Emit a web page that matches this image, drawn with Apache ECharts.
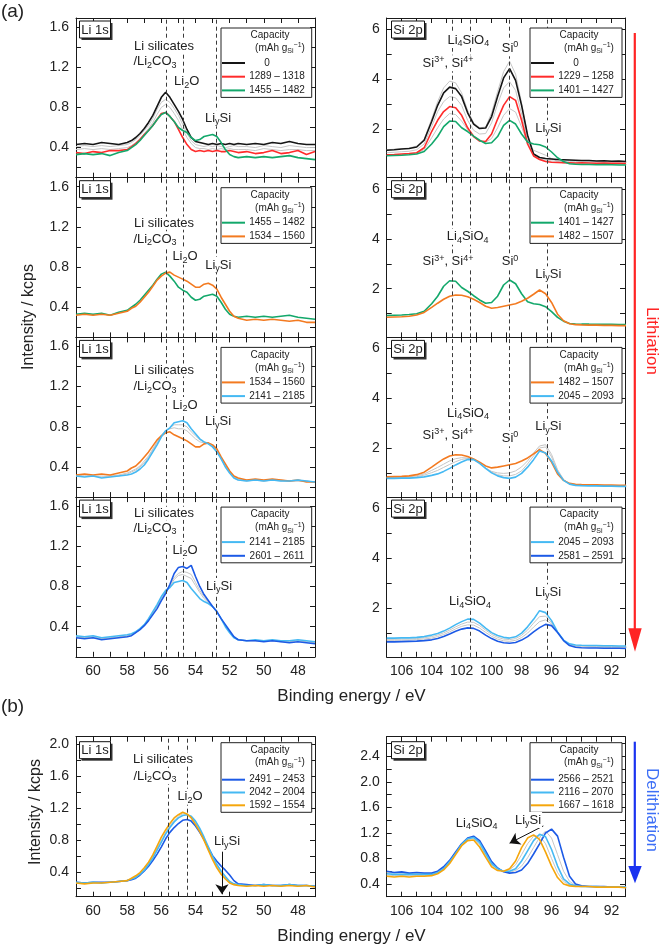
<!DOCTYPE html>
<html>
<head>
<meta charset="utf-8">
<script src="https://cdn.jsdelivr.net/npm/echarts@6.0.0/dist/echarts.min.js"></script>
<title>Li 1s / Si 2p XPS</title>
<style>
  html, body { margin: 0; padding: 0; background: #fff; }
  #main { width: 660px; height: 947px; }
</style>
</head>
<body>
<div id="main"></div>
<script>
// binding energy grids (eV)
var liE = [61,60.5,60,59.5,59,58.5,58,57.75,57.5,57.25,57,56.75,56.5,56.25,56,55.75,55.5,55.25,55,54.75,54.5,54.25,54,53.75,53.5,53.25,53,52.75,52.5,52.25,52,51.75,51.5,51,50.5,50,49.5,49,48.5,48,47.5,47];
var siE = [107,106.5,106,105.5,105,104.5,104,103.6,103.2,102.8,102.4,102,101.6,101.2,100.8,100.4,100,99.6,99.2,98.8,98.4,98,97.6,97.2,96.8,96.4,96,95.6,95.2,94.8,94.4,94,93.5,93,92.5,92,91.5,91];

// Li 1s spectra (kcps), by capacity
var li0    = [.43,.44,.43,.45,.44,.43,.45,.47,.50,.54,.59,.65,.72,.81,.90,.95,.90,.83,.76,.68,.58,.50,.46,.45,.44,.43,.44,.43,.44,.43,.44,.43,.44,.43,.44,.43,.45,.44,.46,.44,.43,.43];
var li1289 = [.35,.34,.36,.35,.37,.37,.38,.41,.44,.48,.53,.57,.62,.68,.74,.75,.71,.66,.58,.50,.43,.38,.36,.37,.36,.37,.36,.37,.36,.36,.37,.36,.35,.36,.34,.35,.37,.34,.35,.37,.33,.36];
var li1455 = [.33,.34,.33,.34,.32,.35,.37,.40,.43,.47,.52,.57,.62,.68,.73,.75,.71,.66,.60,.57,.55,.50,.47,.48,.51,.52,.53,.51,.45,.38,.33,.31,.30,.31,.30,.31,.30,.31,.32,.30,.29,.28];
var li1534 = [.32,.33,.32,.33,.32,.34,.36,.39,.41,.45,.50,.55,.61,.67,.71,.74,.75,.72,.70,.68,.66,.63,.60,.60,.63,.64,.62,.58,.50,.43,.36,.31,.29,.27,.28,.27,.28,.27,.26,.27,.25,.25];
var li2141 = [.31,.30,.31,.29,.30,.31,.32,.33,.35,.38,.42,.48,.55,.62,.70,.76,.79,.84,.85,.86,.84,.78,.73,.68,.65,.63,.60,.55,.48,.40,.34,.29,.27,.26,.27,.26,.27,.26,.26,.27,.26,.25];
var li2601 = [.29,.28,.29,.27,.28,.29,.30,.31,.34,.37,.41,.46,.52,.58,.66,.73,.82,.93,.99,1.00,.98,1.01,.90,.80,.72,.66,.60,.55,.48,.42,.36,.30,.27,.26,.26,.25,.26,.25,.24,.25,.24,.23];
var li2491 = [.28,.27,.28,.28,.28,.29,.30,.31,.33,.37,.42,.48,.55,.63,.72,.82,.90,.96,1.01,1.05,1.06,1.04,.98,.90,.81,.71,.61,.54,.48,.43,.37,.30,.26,.25,.24,.25,.24,.24,.25,.24,.24,.23];
var li2042 = [.28,.27,.28,.27,.28,.29,.30,.32,.34,.38,.43,.50,.58,.68,.78,.88,.96,1.03,1.08,1.11,1.12,1.10,1.04,.95,.84,.72,.60,.50,.42,.35,.29,.26,.25,.24,.24,.25,.24,.24,.25,.24,.24,.23];
var li1592 = [.27,.26,.27,.27,.28,.29,.30,.33,.36,.40,.46,.53,.62,.73,.84,.93,1.01,1.08,1.12,1.15,1.13,1.08,1.00,.91,.80,.68,.56,.46,.38,.32,.27,.25,.24,.23,.24,.23,.24,.23,.24,.23,.24,.22];
// intermediate Li 1s scans (grey)
var gLi1a = [.41,.42,.41,.42,.41,.42,.43,.45,.48,.52,.57,.62,.69,.78,.85,.88,.85,.79,.72,.63,.54,.47,.43,.42,.41,.42,.41,.42,.41,.40,.41,.42,.41,.41,.40,.42,.41,.40,.42,.41,.40,.40];
var gLi1b = [.38,.39,.38,.39,.38,.39,.40,.42,.45,.49,.54,.59,.65,.73,.80,.83,.80,.74,.67,.58,.50,.44,.40,.39,.39,.38,.39,.38,.39,.38,.39,.38,.38,.38,.37,.39,.38,.37,.38,.38,.37,.37];
var gLi3a = [.31,.32,.31,.31,.31,.32,.34,.36,.38,.41,.46,.51,.58,.65,.72,.76,.78,.79,.78,.78,.76,.72,.68,.65,.64,.64,.62,.57,.49,.41,.35,.30,.28,.27,.27,.26,.27,.27,.26,.26,.26,.25];
var gLi3b = [.31,.31,.31,.30,.31,.31,.33,.35,.37,.40,.44,.50,.57,.64,.71,.76,.79,.82,.82,.82,.80,.75,.71,.67,.65,.64,.61,.56,.48,.40,.34,.29,.27,.26,.27,.26,.27,.26,.26,.26,.26,.25];
var gLi4a = [.30,.29,.30,.28,.29,.30,.31,.32,.34,.37,.42,.47,.54,.61,.69,.75,.82,.89,.93,.95,.94,.92,.84,.76,.70,.65,.60,.55,.48,.41,.35,.30,.27,.26,.26,.26,.26,.25,.25,.26,.25,.24];
var gLi4b = [.30,.29,.29,.28,.29,.29,.30,.32,.34,.37,.41,.46,.53,.60,.68,.74,.80,.87,.91,.92,.90,.88,.81,.74,.68,.64,.60,.55,.48,.41,.35,.29,.27,.26,.26,.26,.26,.25,.25,.26,.25,.24];
var gLi5a = [.27,.27,.27,.27,.28,.29,.30,.32,.35,.39,.44,.51,.60,.70,.80,.90,.98,1.05,1.10,1.13,1.13,1.09,1.02,.93,.82,.70,.58,.48,.40,.33,.28,.25,.24,.24,.24,.24,.24,.23,.24,.23,.24,.23];

// Si 2p spectra (kcps), by capacity
var si0    = [1.15,1.17,1.20,1.22,1.28,1.55,2.30,2.95,3.45,3.68,3.62,3.30,2.65,2.20,2.02,2.04,2.50,3.30,4.05,4.42,3.95,2.95,1.75,1.00,0.86,0.82,0.80,0.78,0.77,0.76,0.75,0.74,0.74,0.72,0.73,0.71,0.72,0.70];
var si1229 = [0.97,0.98,1.00,1.02,1.05,1.25,1.90,2.35,2.70,2.90,2.85,2.55,2.05,1.70,1.52,1.50,1.80,2.40,2.95,3.30,3.15,2.35,1.40,0.92,0.78,0.70,0.67,0.66,0.65,0.65,0.64,0.65,0.64,0.63,0.64,0.63,0.63,0.62];
var si1401 = [0.93,0.94,0.95,0.97,1.00,1.10,1.40,1.70,2.10,2.32,2.30,2.05,1.90,1.72,1.55,1.42,1.45,1.70,2.15,2.35,2.20,1.80,1.48,1.40,1.37,1.28,1.08,0.85,0.70,0.61,0.59,0.58,0.58,0.57,0.58,0.57,0.56,0.56];
var si1482 = [0.86,0.87,0.88,0.90,0.95,1.05,1.25,1.42,1.58,1.70,1.75,1.74,1.68,1.58,1.45,1.30,1.22,1.25,1.30,1.35,1.40,1.50,1.62,1.78,1.95,1.80,1.45,0.98,0.72,0.60,0.56,0.55,0.54,0.54,0.53,0.53,0.52,0.52];
var si2045 = [0.80,0.80,0.81,0.81,0.83,0.86,0.92,0.98,1.08,1.20,1.34,1.46,1.56,1.55,1.40,1.20,1.02,0.90,0.83,0.80,0.85,1.00,1.25,1.55,1.90,1.82,1.50,1.05,0.72,0.57,0.52,0.51,0.50,0.50,0.49,0.49,0.48,0.48];
var si2581 = [0.65,0.65,0.66,0.67,0.68,0.70,0.73,0.78,0.86,0.96,1.07,1.16,1.21,1.19,1.08,0.92,0.78,0.67,0.61,0.59,0.62,0.72,0.86,1.05,1.22,1.35,1.30,1.02,0.70,0.50,0.43,0.41,0.40,0.40,0.39,0.39,0.39,0.38];
var si2566 = [0.60,0.58,0.59,0.57,0.58,0.57,0.57,0.60,0.67,0.77,0.90,1.03,1.12,1.15,1.08,0.92,0.75,0.65,0.59,0.57,0.58,0.62,0.72,0.87,1.03,1.20,1.26,1.15,0.82,0.52,0.40,0.37,0.36,0.36,0.36,0.35,0.35,0.35];
var si2116 = [0.56,0.55,0.55,0.55,0.55,0.55,0.55,0.58,0.64,0.75,0.88,1.02,1.11,1.13,1.05,0.88,0.72,0.64,0.60,0.60,0.64,0.76,0.92,1.08,1.18,1.14,0.94,0.68,0.48,0.40,0.37,0.36,0.36,0.36,0.35,0.35,0.35,0.35];
var si1667 = [0.52,0.51,0.52,0.51,0.52,0.52,0.53,0.56,0.62,0.72,0.86,1.00,1.08,1.09,0.98,0.82,0.67,0.61,0.60,0.64,0.76,0.97,1.12,1.17,1.10,0.90,0.68,0.50,0.40,0.37,0.36,0.36,0.36,0.35,0.35,0.35,0.35,0.34];
// intermediate Si 2p scans (grey)
var gSi1a = [1.17,1.19,1.21,1.24,1.32,1.60,2.40,3.10,3.65,3.92,3.85,3.45,2.75,2.25,2.05,2.08,2.65,3.50,4.30,4.72,4.20,3.05,1.75,1.00,0.86,0.82,0.79,0.77,0.76,0.75,0.74,0.73,0.73,0.72,0.72,0.71,0.71,0.70];
var gSi1b = [1.05,1.07,1.09,1.11,1.17,1.40,2.10,2.70,3.10,3.30,3.25,2.95,2.35,1.95,1.80,1.82,2.25,3.00,3.65,3.90,3.55,2.60,1.50,0.95,0.80,0.75,0.72,0.71,0.70,0.69,0.69,0.68,0.68,0.68,0.67,0.67,0.67,0.66];
var gSi1c = [0.95,0.96,0.97,0.99,1.03,1.17,1.65,2.05,2.40,2.62,2.58,2.32,1.98,1.70,1.52,1.47,1.62,2.05,2.55,2.82,2.68,2.08,1.45,1.15,1.05,0.95,0.82,0.70,0.64,0.61,0.60,0.60,0.60,0.59,0.59,0.58,0.58,0.58];
var gSi3a = [0.84,0.84,0.85,0.86,0.90,0.98,1.12,1.24,1.37,1.50,1.59,1.63,1.62,1.55,1.40,1.21,1.08,1.02,1.00,1.02,1.10,1.26,1.50,1.82,2.10,2.15,1.76,1.15,0.76,0.58,0.53,0.52,0.52,0.51,0.51,0.50,0.50,0.50];
var gSi3b = [0.82,0.82,0.83,0.84,0.87,0.93,1.03,1.12,1.24,1.36,1.47,1.56,1.60,1.56,1.42,1.22,1.05,0.95,0.90,0.90,0.96,1.10,1.38,1.70,2.02,2.06,1.66,1.10,0.74,0.57,0.52,0.51,0.51,0.50,0.50,0.49,0.49,0.49];
var gSi4a = [0.75,0.75,0.76,0.76,0.78,0.81,0.86,0.92,1.01,1.12,1.25,1.36,1.44,1.43,1.30,1.12,0.95,0.83,0.76,0.74,0.78,0.91,1.12,1.40,1.66,1.68,1.42,1.04,0.71,0.55,0.49,0.48,0.47,0.47,0.46,0.46,0.46,0.45];
var gSi4b = [0.71,0.71,0.72,0.72,0.74,0.76,0.80,0.86,0.94,1.05,1.17,1.27,1.33,1.32,1.20,1.03,0.87,0.76,0.69,0.67,0.71,0.82,1.00,1.24,1.46,1.53,1.37,1.03,0.70,0.52,0.46,0.44,0.44,0.43,0.43,0.42,0.42,0.42];
var gSi5a = [0.54,0.53,0.53,0.53,0.53,0.53,0.54,0.57,0.63,0.74,0.87,1.01,1.10,1.11,1.02,0.85,0.70,0.63,0.60,0.62,0.70,0.86,1.03,1.15,1.16,1.03,0.80,0.58,0.44,0.38,0.36,0.36,0.36,0.35,0.35,0.35,0.35,0.34];
var gSi5b = [0.58,0.57,0.57,0.56,0.57,0.56,0.56,0.59,0.66,0.76,0.89,1.03,1.12,1.14,1.07,0.90,0.74,0.65,0.60,0.58,0.61,0.68,0.81,0.97,1.13,1.23,1.12,0.86,0.60,0.44,0.38,0.37,0.36,0.36,0.36,0.35,0.35,0.35];

// reference peak positions (eV)
var liRefs  = [55.7, 54.7, 52.8];
var liRefsB = [55.6, 54.5];
var siRefs  = [102.6, 101.4, 98.8, 96.3];
var siRefs4 = [101.4, 96.3];

var FONT = '"Liberation Sans", Arial, sans-serif';
var C = {
  black: '#151515', red: '#ff2b2b', green: '#13a86b', orange: '#f37a20',
  lblue: '#45b9f3', dblue: '#1c5ae6', yellow: '#f5a60c', grey: '#c6c6c6'
};

var COLS = [
  {x: 76, w: 239, lo: 47, hi: 61, E: liE, tag: 'Li 1s', tagX: 79.5, tagW: 31, legX: 221, legW: 90.7},
  {x: 386.7, w: 238.3, lo: 91.1, hi: 107, E: siE, tag: 'Si 2p', tagX: 391.5, tagW: 33, legX: 530, legW: 92}
];
var ROWS = [
  {top: 18, h: 159.7, xlab: false},
  {top: 177.7, h: 159.7, xlab: false},
  {top: 337.4, h: 159.7, xlab: false},
  {top: 497.1, h: 159.7, xlab: true},
  {top: 736.7, h: 160, xlab: true, b: true}
];

var LI_Y = [0.1, 1.69, 0.2, 0.4, 1], LI_YB = [0.1, 2.09, 0.2, 0.4, 1];
var SI_Y = [0.05, 6.45, 1, 2, 0], SI_YB = [0.2, 2.71, 0.2, 0.4, 1];

var SIL = 'Li silicates', CO3 = '/Li{b|2}CO{b|3}', L2O = 'Li{b|2}O', LYS = 'Li{b|y}Si';
var LSO = 'Li{b|4}SiO{b|4}', S34 = 'Si{p|3+}, Si{p|4+}', S0 = 'Si{p|0}';

var panels = [
  {r: 0, c: 0, y: LI_Y, grey: [gLi1a, gLi1b], refs: liRefs,
   lines: [['0', li0, C.black], ['1289 – 1318', li1289, C.red], ['1455 – 1482', li1455, C.green]],
   texts: [[SIL, 164, 46.7], [CO3, 155, 61.7], [L2O, 186.7, 81.7], [LYS, 218, 118.3]]},
  {r: 0, c: 1, y: SI_Y, grey: [gSi1a, gSi1b, gSi1c], refs: siRefs,
   lines: [['0', si0, C.black], ['1229 – 1258', si1229, C.red], ['1401 – 1427', si1401, C.green]],
   texts: [[LSO, 468.3, 40], [S34, 448, 63.3], [S0, 510, 48.3], [LYS, 548.3, 128.3]]},
  {r: 1, c: 0, y: LI_Y, grey: [], refs: liRefs,
   lines: [['1455 – 1482', li1455, C.green], ['1534 – 1560', li1534, C.orange]],
   texts: [[SIL, 164, 223.3], [CO3, 155, 239.3], [L2O, 185, 256.7], [LYS, 218.3, 265]]},
  {r: 1, c: 1, y: SI_Y, grey: [], refs: siRefs,
   lines: [['1401 – 1427', si1401, C.green], ['1482 – 1507', si1482, C.orange]],
   texts: [[LSO, 467.7, 236.7], [S34, 448, 261.7], [S0, 510, 261.7], [LYS, 548.3, 274.3]]},
  {r: 2, c: 0, y: LI_Y, grey: [gLi3a, gLi3b], refs: liRefs,
   lines: [['1534 – 1560', li1534, C.orange], ['2141 – 2185', li2141, C.lblue]],
   texts: [[SIL, 164, 370], [CO3, 155, 386.7], [L2O, 185, 405], [LYS, 218, 421.7]]},
  {r: 2, c: 1, y: SI_Y, grey: [gSi3a, gSi3b], refs: siRefs,
   lines: [['1482 – 1507', si1482, C.orange], ['2045 – 2093', si2045, C.lblue]],
   texts: [[LSO, 468, 413.3], [S34, 448, 435], [S0, 510, 438.3], [LYS, 548.3, 426.7]]},
  {r: 3, c: 0, y: LI_Y, grey: [gLi4a, gLi4b], refs: liRefs,
   lines: [['2141 – 2185', li2141, C.lblue], ['2601 – 2611', li2601, C.dblue]],
   texts: [[SIL, 164, 513.3], [CO3, 155, 528.3], [L2O, 185, 550], [LYS, 219, 586]]},
  {r: 3, c: 1, y: SI_Y, grey: [gSi4a, gSi4b], refs: siRefs4,
   lines: [['2045 – 2093', si2045, C.lblue], ['2581 – 2591', si2581, C.dblue]],
   texts: [[LSO, 470, 601.7], [LYS, 548, 592.3]]},
  {r: 4, c: 0, y: LI_YB, grey: [gLi5a], refs: liRefsB, arrow: [[52.45, 0.66], [52.45, 0.13]],
   lines: [['2491 – 2453', li2491, C.dblue], ['2042 – 2004', li2042, C.lblue], ['1592 – 1554', li1592, C.yellow]],
   texts: [[SIL, 163, 759.3], [CO3, 155, 776], [L2O, 190, 796.7], [LYS, 227, 841.7]]},
  {r: 4, c: 1, y: SI_YB, grey: [gSi5a, gSi5b], refs: [], arrow: [[96.55, 1.31], [98.8, 1.04]],
   lines: [['2566 – 2521', si2566, C.dblue], ['2116 – 2070', si2116, C.lblue], ['1667 – 1618', si1667, C.yellow]],
   texts: [[LSO, 476.7, 823.3], [LYS, 528, 820]]}
];

function rich(size) {
  var s = Math.round(size * 0.7);
  return {
    b: {fontSize: s, fontFamily: FONT, fill: '#222', padding: [Math.round(size * 0.55), 0, 0, 0]},
    p: {fontSize: s, fontFamily: FONT, fill: '#222', padding: [0, 0, Math.round(size * 0.55), 0]}
  };
}

function label(s, x, y, size, extra) {
  var st = {
    text: s, fontSize: size, fontFamily: FONT, fill: '#222',
    align: 'center', verticalAlign: 'middle', textAlign: 'center', textVerticalAlign: 'middle',
    rich: rich(size)
  };
  for (var k in extra || {}) st[k] = extra[k];
  return {type: 'text', x: x, y: y, z: 110, silent: true, style: st};
}

function valAxis(gi, pos, lo, hi, step, labStep, dec, showLab, inverse) {
  return {
    type: 'value', gridIndex: gi, position: pos, min: lo, max: hi, inverse: !!inverse,
    splitNumber: Math.round((hi - lo) / step), minInterval: step, maxInterval: step,
    axisLine: {show: true, onZero: false, lineStyle: {color: '#1a1a1a', width: 1}},
    axisTick: {show: true, inside: true, length: 5, lineStyle: {color: '#1a1a1a', width: 1}},
    splitLine: {show: false},
    axisLabel: {
      show: showLab, margin: 7, color: '#222', fontSize: 14, fontFamily: FONT,
      formatter: function (v) {
        var k = v / labStep;
        if (Math.abs(k - Math.round(k)) > 1e-6 || v <= lo + 1e-9 || v >= hi - 1e-9) return '';
        return v.toFixed(dec);
      }
    }
  };
}

function pairs(E, v) {
  return E.map(function (e, i) { return [e, v[i]]; });
}

var grids = [], xAxes = [], yAxes = [], series = [], graphic = [];

panels.forEach(function (p, gi) {
  var col = COLS[p.c], row = ROWS[p.r];
  grids.push({left: col.x, top: row.top, width: col.w, height: row.h, show: false});
  xAxes.push(valAxis(gi, 'bottom', col.lo, col.hi, 1, 2, 0, row.xlab, true));
  xAxes.push(valAxis(gi, 'top', col.lo, col.hi, 1, 2, 0, false, true));
  var y = p.y;
  yAxes.push(valAxis(gi, 'left', y[0], y[1], y[2], y[3], y[4], true, false));
  yAxes.push(valAxis(gi, 'right', y[0], y[1], y[2], y[3], y[4], false, false));

  var xi = 2 * gi;
  p.grey.forEach(function (g) {
    series.push({
      type: 'line', xAxisIndex: xi, yAxisIndex: xi, data: pairs(col.E, g),
      showSymbol: false, symbol: 'none', silent: true, z: 2,
      lineStyle: {color: C.grey, width: 1}
    });
  });
  p.lines.forEach(function (ln, k) {
    var s = {
      type: 'line', name: ln[0], xAxisIndex: xi, yAxisIndex: xi, data: pairs(col.E, ln[1]),
      showSymbol: false, symbol: 'none', silent: true, z: 3,
      lineStyle: {color: ln[2], width: 1.6}, itemStyle: {color: ln[2]}
    };
    if (k === 0 && p.refs.length) {
      s.markLine = {
        silent: true, symbol: ['none', 'none'], label: {show: false}, animation: false,
        lineStyle: {type: [4, 3], color: '#3a3a3a', width: 1},
        data: p.refs.map(function (v) { return {xAxis: v}; })
      };
    }
    if (k === 1 && p.arrow) {
      s.markLine = {
        silent: true, symbol: ['none', 'arrow'], symbolSize: 10, label: {show: false}, animation: false,
        lineStyle: {type: 'solid', color: '#111', width: 1},
        itemStyle: {color: '#111'},
        data: [[{coord: p.arrow[0]}, {coord: p.arrow[1]}]]
      };
    }
    series.push(s);
  });

  // peak annotations
  p.texts.forEach(function (t) {
    graphic.push(label(t[0], t[1], t[2], 13, {backgroundColor: '#fff', padding: [0, 1]}));
  });

  // panel tag
  var ty = row.top + (row.b ? 5 : 3);
  graphic.push({type: 'rect', z: 108, silent: true, shape: {x: col.tagX + 2, y: ty + 2, width: col.tagW, height: 17}, style: {fill: '#333'}});
  graphic.push({type: 'rect', z: 109, silent: true, shape: {x: col.tagX, y: ty, width: col.tagW, height: 17}, style: {fill: '#fff', stroke: '#111', lineWidth: 1}});
  graphic.push(label(col.tag, col.tagX + col.tagW / 2, ty + 9, 13));

  // capacity legend box
  var b = row.b, n = p.lines.length;
  var bt = row.top + (b ? 6 : 10);
  var e0 = row.top + (b ? 43 : 45), de = b ? 12.8 : 13.7;
  var bh = e0 + de * (n - 1) + 7 - bt;
  graphic.push({type: 'rect', z: 108, silent: true, shape: {x: col.legX, y: bt, width: col.legW, height: bh}, style: {fill: '#fff', stroke: '#222', lineWidth: 1}});
  graphic.push(label('Capacity', col.legX + 49, bt + 7.5, 10));
  graphic.push(label('(mAh g{b|Si}{p|−1})', col.legX + 59, bt + (b ? 20 : 20.5), 10));
  p.lines.forEach(function (ln, k) {
    var yy = e0 + de * k;
    graphic.push({type: 'line', z: 110, silent: true, shape: {x1: col.legX + 1, y1: yy, x2: col.legX + 24, y2: yy}, style: {stroke: ln[2], lineWidth: 2}});
    graphic.push(label(ln[0], col.legX + (ln[0] === '0' ? 46 : 56), yy, 10));
  });
});

// figure-level labels
graphic.push(label('(a)', 12.5, 12, 19));
graphic.push(label('(b)', 12.5, 706.7, 19));
graphic.push(label('Intensity / kcps', 29, 317, 16, {}));
graphic[graphic.length - 1].rotation = Math.PI / 2;
graphic.push(label('Intensity / kcps', 35.5, 812, 16, {}));
graphic[graphic.length - 1].rotation = Math.PI / 2;
graphic.push(label('Binding energy / eV', 351.5, 696.7, 17));
graphic.push(label('Binding energy / eV', 351.5, 936.7, 17));

// lithiation / delithiation arrows
graphic.push({type: 'line', z: 105, silent: true, shape: {x1: 634.8, y1: 33, x2: 634.8, y2: 632}, style: {stroke: '#ff2424', lineWidth: 2.2}});
graphic.push({type: 'polygon', z: 105, silent: true, shape: {points: [[628.3, 628.3], [641.7, 628.3], [635, 651.7]]}, style: {fill: '#ff2424'}});
graphic.push(label('Lithiation', 651.5, 341, 17, {fill: '#ff2424'}));
graphic[graphic.length - 1].rotation = -Math.PI / 2;
graphic.push({type: 'line', z: 105, silent: true, shape: {x1: 634.8, y1: 741.7, x2: 634.8, y2: 870}, style: {stroke: '#1a33f0', lineWidth: 2.2}});
graphic.push({type: 'polygon', z: 105, silent: true, shape: {points: [[628.3, 866], [641.7, 866], [635, 883.3]]}, style: {fill: '#1a33f0'}});
graphic.push(label('Delithiation', 651.5, 810, 17, {fill: '#3d6ff6'}));
graphic[graphic.length - 1].rotation = -Math.PI / 2;

var chart = echarts.init(document.getElementById('main'));
chart.setOption({
  animation: false,
  backgroundColor: '#fff',
  textStyle: {fontFamily: FONT},
  grid: grids,
  xAxis: xAxes,
  yAxis: yAxes,
  series: series,
  graphic: {elements: graphic}
});
</script>
</body>
</html>
